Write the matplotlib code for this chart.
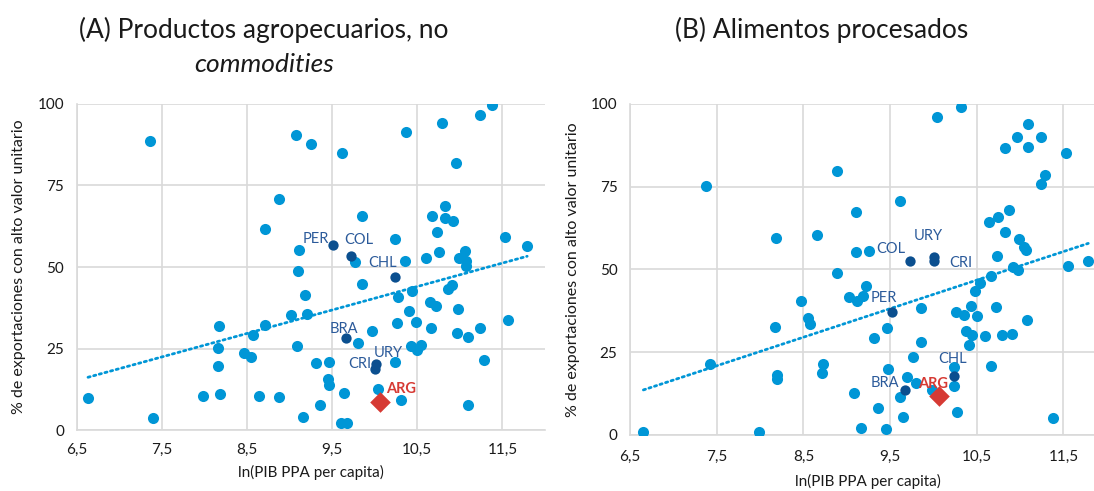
import numpy as np
import matplotlib
matplotlib.use("Agg")
import matplotlib.pyplot as plt
from matplotlib.ticker import FuncFormatter

plt.rcParams["font.family"] = ["Lato", "DejaVu Sans"]

# ----------------------------
# Panel A: productos agropecuarios, no commodities
# ----------------------------
a_x = [7.366, 8.88, 8.707, 6.633, 7.40, 7.978, 8.174, 8.159, 8.162, 8.186,
       8.46, 8.547, 8.566, 8.715, 8.64, 8.87, 9.076, 9.257, 9.61, 9.107,
       9.095, 9.178, 9.02, 9.21, 9.092, 9.31, 9.468, 9.448, 9.465, 9.641,
       9.354, 9.162, 9.606, 9.677, 10.37, 10.79, 11.24, 11.378, 10.96, 10.825,
       10.668, 10.825, 10.923, 9.856, 10.735, 11.527, 11.79, 9.766, 10.233, 10.35,
       10.60, 10.75, 11.056, 10.99, 11.076, 11.068, 9.856, 10.44, 10.272, 10.865,
       10.912, 10.645, 10.715, 10.98, 10.406, 10.265, 10.48, 10.665, 9.97, 10.966,
       11.09, 11.24, 11.56, 9.80, 10.43, 10.54, 10.5, 10.233, 11.28, 10.037,
       10.31, 11.09]
a_y = [88.7, 71.0, 61.7, 9.7, 3.8, 10.5, 31.8, 25.2, 19.6, 11.0,
       23.5, 22.3, 29.0, 32.1, 10.4, 10.2, 90.5, 87.6, 84.9, 55.1,
       48.7, 41.5, 35.2, 35.5, 25.9, 20.6, 21.0, 15.5, 13.9, 11.3,
       7.7, 4.0, 2.2, 2.1, 91.5, 94.1, 96.5, 99.6, 82.0, 68.8,
       65.5, 65.1, 64.2, 65.7, 60.8, 59.3, 56.4, 51.4, 58.7, 51.7,
       52.7, 54.7, 54.8, 52.8, 51.8, 50.4, 44.7, 42.5, 40.7, 43.3,
       44.5, 39.4, 38.0, 37.2, 36.4, 32.9, 33.1, 31.2, 30.4, 29.9,
       28.5, 31.4, 33.6, 26.6, 25.8, 26.0, 24.4, 20.8, 21.5, 12.6,
       9.3, 7.7]
a_hl_names = ["PER", "COL", "CHL", "BRA", "URY", "CRI"]
a_hl_x = [9.515, 9.724, 10.241, 9.668, 10.01, 10.0]
a_hl_y = [56.7, 53.5, 47.0, 28.1, 20.2, 18.7]
a_arg = (10.057, 8.5)

# ----------------------------
# Panel B: alimentos procesados
# ----------------------------
b_x = [7.38, 8.18, 8.653, 6.654, 7.988, 7.423, 8.172, 8.476, 8.553, 8.576,
       8.199, 8.196, 8.726, 8.718, 10.037, 8.891, 9.614, 9.103, 9.103, 9.26,
       8.884, 9.219, 9.03, 9.187, 9.118, 9.86, 9.468, 9.318, 9.86, 9.768,
       9.472, 9.695, 9.80, 9.614, 9.087, 9.36, 9.649, 9.168, 9.453, 9.98,
       10.24, 10.236, 10.27, 10.667, 11.38, 10.264, 10.352, 10.433, 10.50, 10.718,
       11.075, 10.37, 10.445, 10.60, 10.79, 10.906, 10.413, 10.479, 10.54, 10.317,
       11.09, 10.96, 11.24, 10.829, 11.09, 11.525, 11.283, 11.24, 10.868, 10.748,
       10.644, 10.829, 10.99, 11.048, 11.064, 10.733, 11.555, 11.786, 10.92, 10.98,
       10.664]
b_y = [75.3, 59.5, 60.3, 1.0, 0.8, 21.4, 32.6, 40.6, 35.4, 33.4,
       18.1, 17.0, 21.4, 18.7, 96.0, 79.8, 70.8, 67.5, 55.2, 55.7,
       48.8, 45.1, 41.8, 42.1, 40.5, 38.5, 32.3, 29.4, 28.2, 23.7,
       19.9, 17.6, 15.6, 11.6, 12.6, 8.3, 5.3, 2.0, 1.9, 13.6,
       20.5, 14.8, 7.0, 20.8, 5.2, 37.3, 36.3, 39.1, 35.9, 38.6,
       34.7, 31.5, 30.2, 30.0, 30.2, 30.6, 27.2, 43.6, 45.8, 99.2,
       93.9, 90.1, 90.1, 86.8, 87.1, 85.2, 78.6, 75.9, 68.0, 66.0,
       64.4, 61.2, 59.1, 56.9, 55.8, 54.0, 51.0, 52.6, 50.8, 49.8,
       47.9]
b_hl_names = ["COL", "URY", "CRI", "PER", "BRA", "CHL"]
b_hl_x = [9.733, 10.01, 10.01, 9.525, 9.676, 10.24]
b_hl_y = [52.7, 53.7, 52.6, 37.1, 13.5, 17.8]
b_arg = (10.06, 11.7)

# label offsets (pixels) relative to each highlighted point
a_offsets = [(-18, 6), (8, 16), (-13, 14), (-3, 9), (13, 11), (-15, 5)]
a_arg_off = (21, 13)
b_offsets = [(-19, 12), (-6, 21), (27, -2), (-8, 14), (-20, 7), (-2, 17)]
b_arg_off = (-6, 12)

LIGHT = "#0096D6"
DARK = "#0B4F8F"
LABEL = "#2B5A9A"
RED = "#D63A34"
GRID = "#D9D9D9"
TXT = "#1A1A1A"

fig = plt.figure(figsize=(10.94, 4.91), dpi=100)
axA = fig.add_axes([0.0701, 0.1242, 0.4281, 0.6640])
axB = fig.add_axes([0.5759, 0.1141, 0.4358, 0.6741])


def comma(v, pos):
    s = f"{v:g}"
    return s.replace(".", ",")


def draw(ax, xs, ys, names, hx, hy, offs, arg, arg_off, pad, xlpad):
    xs = np.array(xs)
    ys = np.array(ys)
    allx = np.concatenate([xs, hx, [arg[0]]])
    ally = np.concatenate([ys, hy, [arg[1]]])
    # linear trendline through all countries
    k, c = np.polyfit(allx, ally, 1)
    tx = np.array([allx.min(), allx.max()])
    ax.plot(tx, k * tx + c, color=LIGHT, lw=2.0, ls=(0, (0.8, 1.3)),
            zorder=2, dash_capstyle="round")
    ax.scatter(xs, ys, s=64, color=LIGHT, zorder=3, linewidths=0)
    ax.scatter(hx, hy, s=55, color=DARK, zorder=4, linewidths=0)
    ax.scatter([arg[0]], [arg[1]], s=110, marker="D", color=RED, zorder=5,
               linewidths=0)
    for n, x, y, o in zip(names, hx, hy, offs):
        ax.annotate(n, (x, y), xytext=o, textcoords="offset pixels",
                    ha="center", va="center", fontsize=10.5, color=LABEL,
                    zorder=6)
    ax.annotate("ARG", arg, xytext=arg_off, textcoords="offset pixels",
                ha="center", va="center", fontsize=10.5, color=RED,
                fontweight="bold", zorder=6)

    ax.set_xlim(6.5, 12.0)
    ax.set_ylim(0, 100)
    ax.set_xticks([6.5, 7.5, 8.5, 9.5, 10.5, 11.5])
    ax.set_yticks([0, 25, 50, 75, 100])
    ax.xaxis.set_major_formatter(FuncFormatter(comma))
    ax.grid(True, color=GRID, lw=1.2)
    ax.set_axisbelow(True)
    for s in ["top", "right"]:
        ax.spines[s].set_visible(False)
    for s in ["left", "bottom"]:
        ax.spines[s].set_color(GRID)
        ax.spines[s].set_linewidth(1.2)
    ax.tick_params(axis="y", length=0, labelsize=11, pad=9, colors=TXT)
    ax.tick_params(axis="x", length=0, labelsize=11, pad=pad, colors=TXT)
    ax.set_xlabel("ln(PIB PPA per capita)", fontsize=11, color=TXT,
                  labelpad=xlpad)
    ax.set_ylabel("% de exportaciones con alto valor unitario", fontsize=11.5,
                  color=TXT, labelpad=8)


draw(axA, a_x, a_y, a_hl_names, a_hl_x, a_hl_y, a_offsets, a_arg, a_arg_off, 9, 6)
draw(axB, b_x, b_y, b_hl_names, b_hl_x, b_hl_y, b_offsets, b_arg, b_arg_off, 11, 7)

fig.text(264 / 1094, 1 - 30 / 491, "(A) Productos agropecuarios, no",
         ha="center", va="center", fontsize=19, color=TXT)
fig.text(264 / 1094, 1 - 65 / 491, "commodities", ha="center", va="center",
         fontsize=19, color=TXT, fontstyle="italic")
fig.text(822 / 1094, 1 - 30 / 491, "(B) Alimentos procesados", ha="center",
         va="center", fontsize=19, color=TXT)

fig.savefig("out.png", dpi=100, facecolor="white")
